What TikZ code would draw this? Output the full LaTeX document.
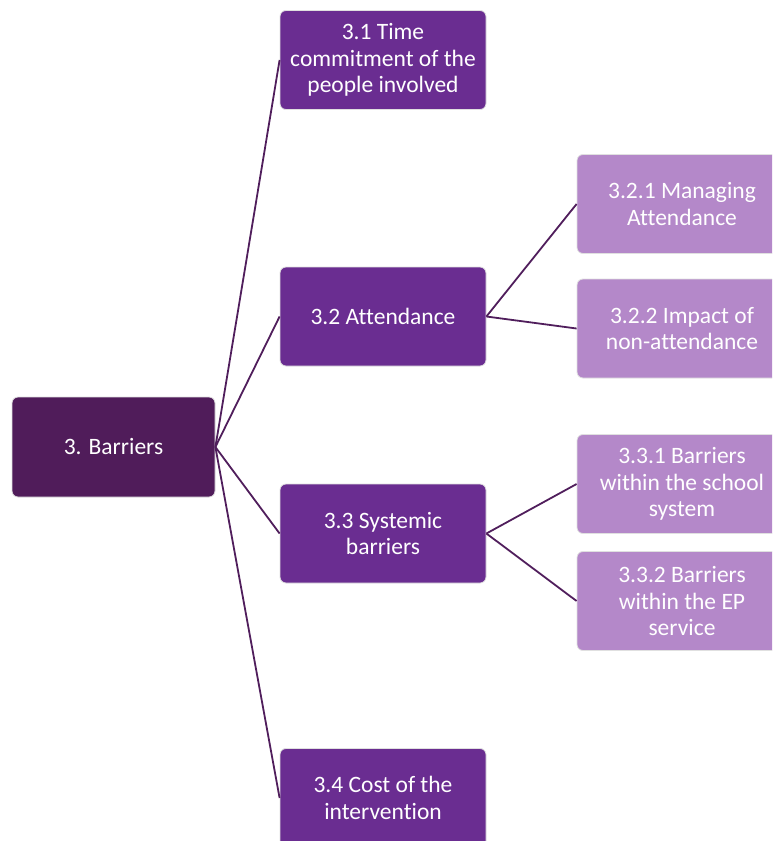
\documentclass[tikz,border=0pt]{standalone}
\usepackage{fontspec}
\setmainfont{Carlito}[Ligatures=NoCommon]
\definecolor{rootc}{RGB}{80,28,90}
\definecolor{midc}{RGB}{106,45,145}
\definecolor{leafc}{RGB}{180,136,201}
\definecolor{linec}{RGB}{80,30,92}
\begin{document}
\begin{tikzpicture}[x=1pt,y=-1pt,
  box/.style={rounded corners=6pt, draw=black!12, line width=0.8pt, text=white,
    align=center, font=\fontsize{23.5}{26.5}\selectfont, inner sep=0pt, anchor=center},
  rootbox/.style={box, fill=rootc, minimum width=203pt, minimum height=100pt},
  midbox/.style={box, fill=midc, minimum width=206pt, minimum height=99pt},
  leafbox/.style={box, fill=leafc, minimum width=210pt, minimum height=99pt},
  conn/.style={draw=linec, line width=1.8pt}]
\useasboundingbox (0,0) rectangle (772,841);
\clip (0,0) rectangle (772,841);
\node[rootbox] (root) at (113.5,447) {3. Barriers};
\node[midbox] (a) at (383,60) {3.1 Time\\commitment of the\\people involved};
\node[midbox] (b) at (383,316.5) {3.2 Attendance};
\node[midbox] (c) at (383,533.5) {3.3 Systemic\\barriers};
\node[midbox] (d) at (383,798) {3.4 Cost of the\\intervention};
\node[leafbox] (b1) at (682,204) {3.2.1 Managing\\Attendance};
\node[leafbox] (b2) at (682,328.5) {3.2.2 Impact of\\non-attendance};
\node[leafbox] (c1) at (682,484) {3.3.1 Barriers\\within the school\\system};
\node[leafbox] (c2) at (682,601) {3.3.2 Barriers\\within the EP\\service};
\draw[conn] (root.east) -- (a.west);
\draw[conn] (root.east) -- (b.west);
\draw[conn] (root.east) -- (c.west);
\draw[conn] (root.east) -- (d.west);
\draw[conn] (b.east) -- (b1.west);
\draw[conn] (b.east) -- (b2.west);
\draw[conn] (c.east) -- (c1.west);
\draw[conn] (c.east) -- (c2.west);
\end{tikzpicture}
\end{document}
